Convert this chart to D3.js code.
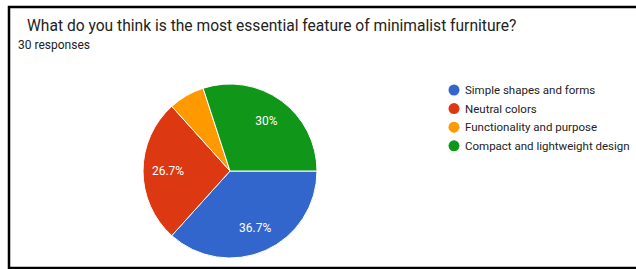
<!DOCTYPE html>
<html>
<head>
<meta charset="utf-8">
<script src="https://cdn.jsdelivr.net/npm/d3@7"></script>
<style>
  html, body { margin: 0; padding: 0; background: #fff; }
  svg { display: block; }
</style>
</head>
<body>
<svg id="chart" width="636" height="269"></svg>
<script>
const title = "What do you think is the most essential feature of minimalist furniture?";
const subtitle = "30 responses";
const categories = ["Simple shapes and forms", "Neutral colors", "Functionality and purpose", "Compact and lightweight design"];
const counts = [11, 8, 2, 9];
const colors = ["#3366cc", "#dc3912", "#ff9900", "#109618"];

const W = 636, H = 269;
const svg = d3.select("#chart");

// frame
svg.append("path")
  .attr("d", "M636,7 H9 V268 H636")
  .attr("fill", "none")
  .attr("stroke", "#000")
  .attr("stroke-width", 2.5);

svg.append("text")
  .attr("x", 27).attr("y", 31)
  .attr("font-family", "Roboto, Arial, sans-serif")
  .attr("font-size", 15.6)
  .attr("fill", "#222")
  .text(title);

svg.append("text")
  .attr("x", 18).attr("y", 49)
  .attr("font-family", "Roboto, Arial, sans-serif")
  .attr("font-size", 12)
  .attr("fill", "#222")
  .text(subtitle);

const total = d3.sum(counts);
const cx = 230, cy = 171, R = 87;
const pie = d3.pie().sort(null).value(d => d)
  .startAngle(Math.PI / 2).endAngle(Math.PI / 2 + 2 * Math.PI);
const arcs = pie(counts);
const arc = d3.arc().innerRadius(0).outerRadius(R);
const labelArc = d3.arc().innerRadius(62).outerRadius(62);

const g = svg.append("g").attr("transform", `translate(${cx},${cy})`);
g.selectAll("path.slice").data(arcs).join("path")
  .attr("class", "slice")
  .attr("d", arc)
  .attr("fill", (d, i) => colors[i])
  .attr("stroke", "#fff")
  .attr("stroke-width", 1);

const fmt = v => { const p = Math.round(v / total * 1000) / 10; return p + "%"; };
g.selectAll("text.lbl").data(arcs.filter(d => d.value / total > 0.1)).join("text")
  .attr("class", "lbl")
  .attr("transform", d => `translate(${labelArc.centroid(d)})`)
  .attr("text-anchor", "middle")
  .attr("dy", "0.35em")
  .attr("font-family", "Roboto, Arial, sans-serif")
  .attr("font-size", 12)
  .attr("fill", "#fff")
  .text(d => fmt(d.value));

// legend
const lg = svg.append("g");
const items = lg.selectAll("g").data(categories).join("g")
  .attr("transform", (d, i) => `translate(454,${90 + i * 18.6})`);
items.append("circle").attr("r", 5.5).attr("fill", (d, i) => colors[i]);
items.append("text")
  .attr("x", 11).attr("dy", "0.35em")
  .attr("font-family", "Roboto, Arial, sans-serif")
  .attr("font-size", 11.5)
  .attr("fill", "#222")
  .text(d => d);
</script>
</body>
</html>
